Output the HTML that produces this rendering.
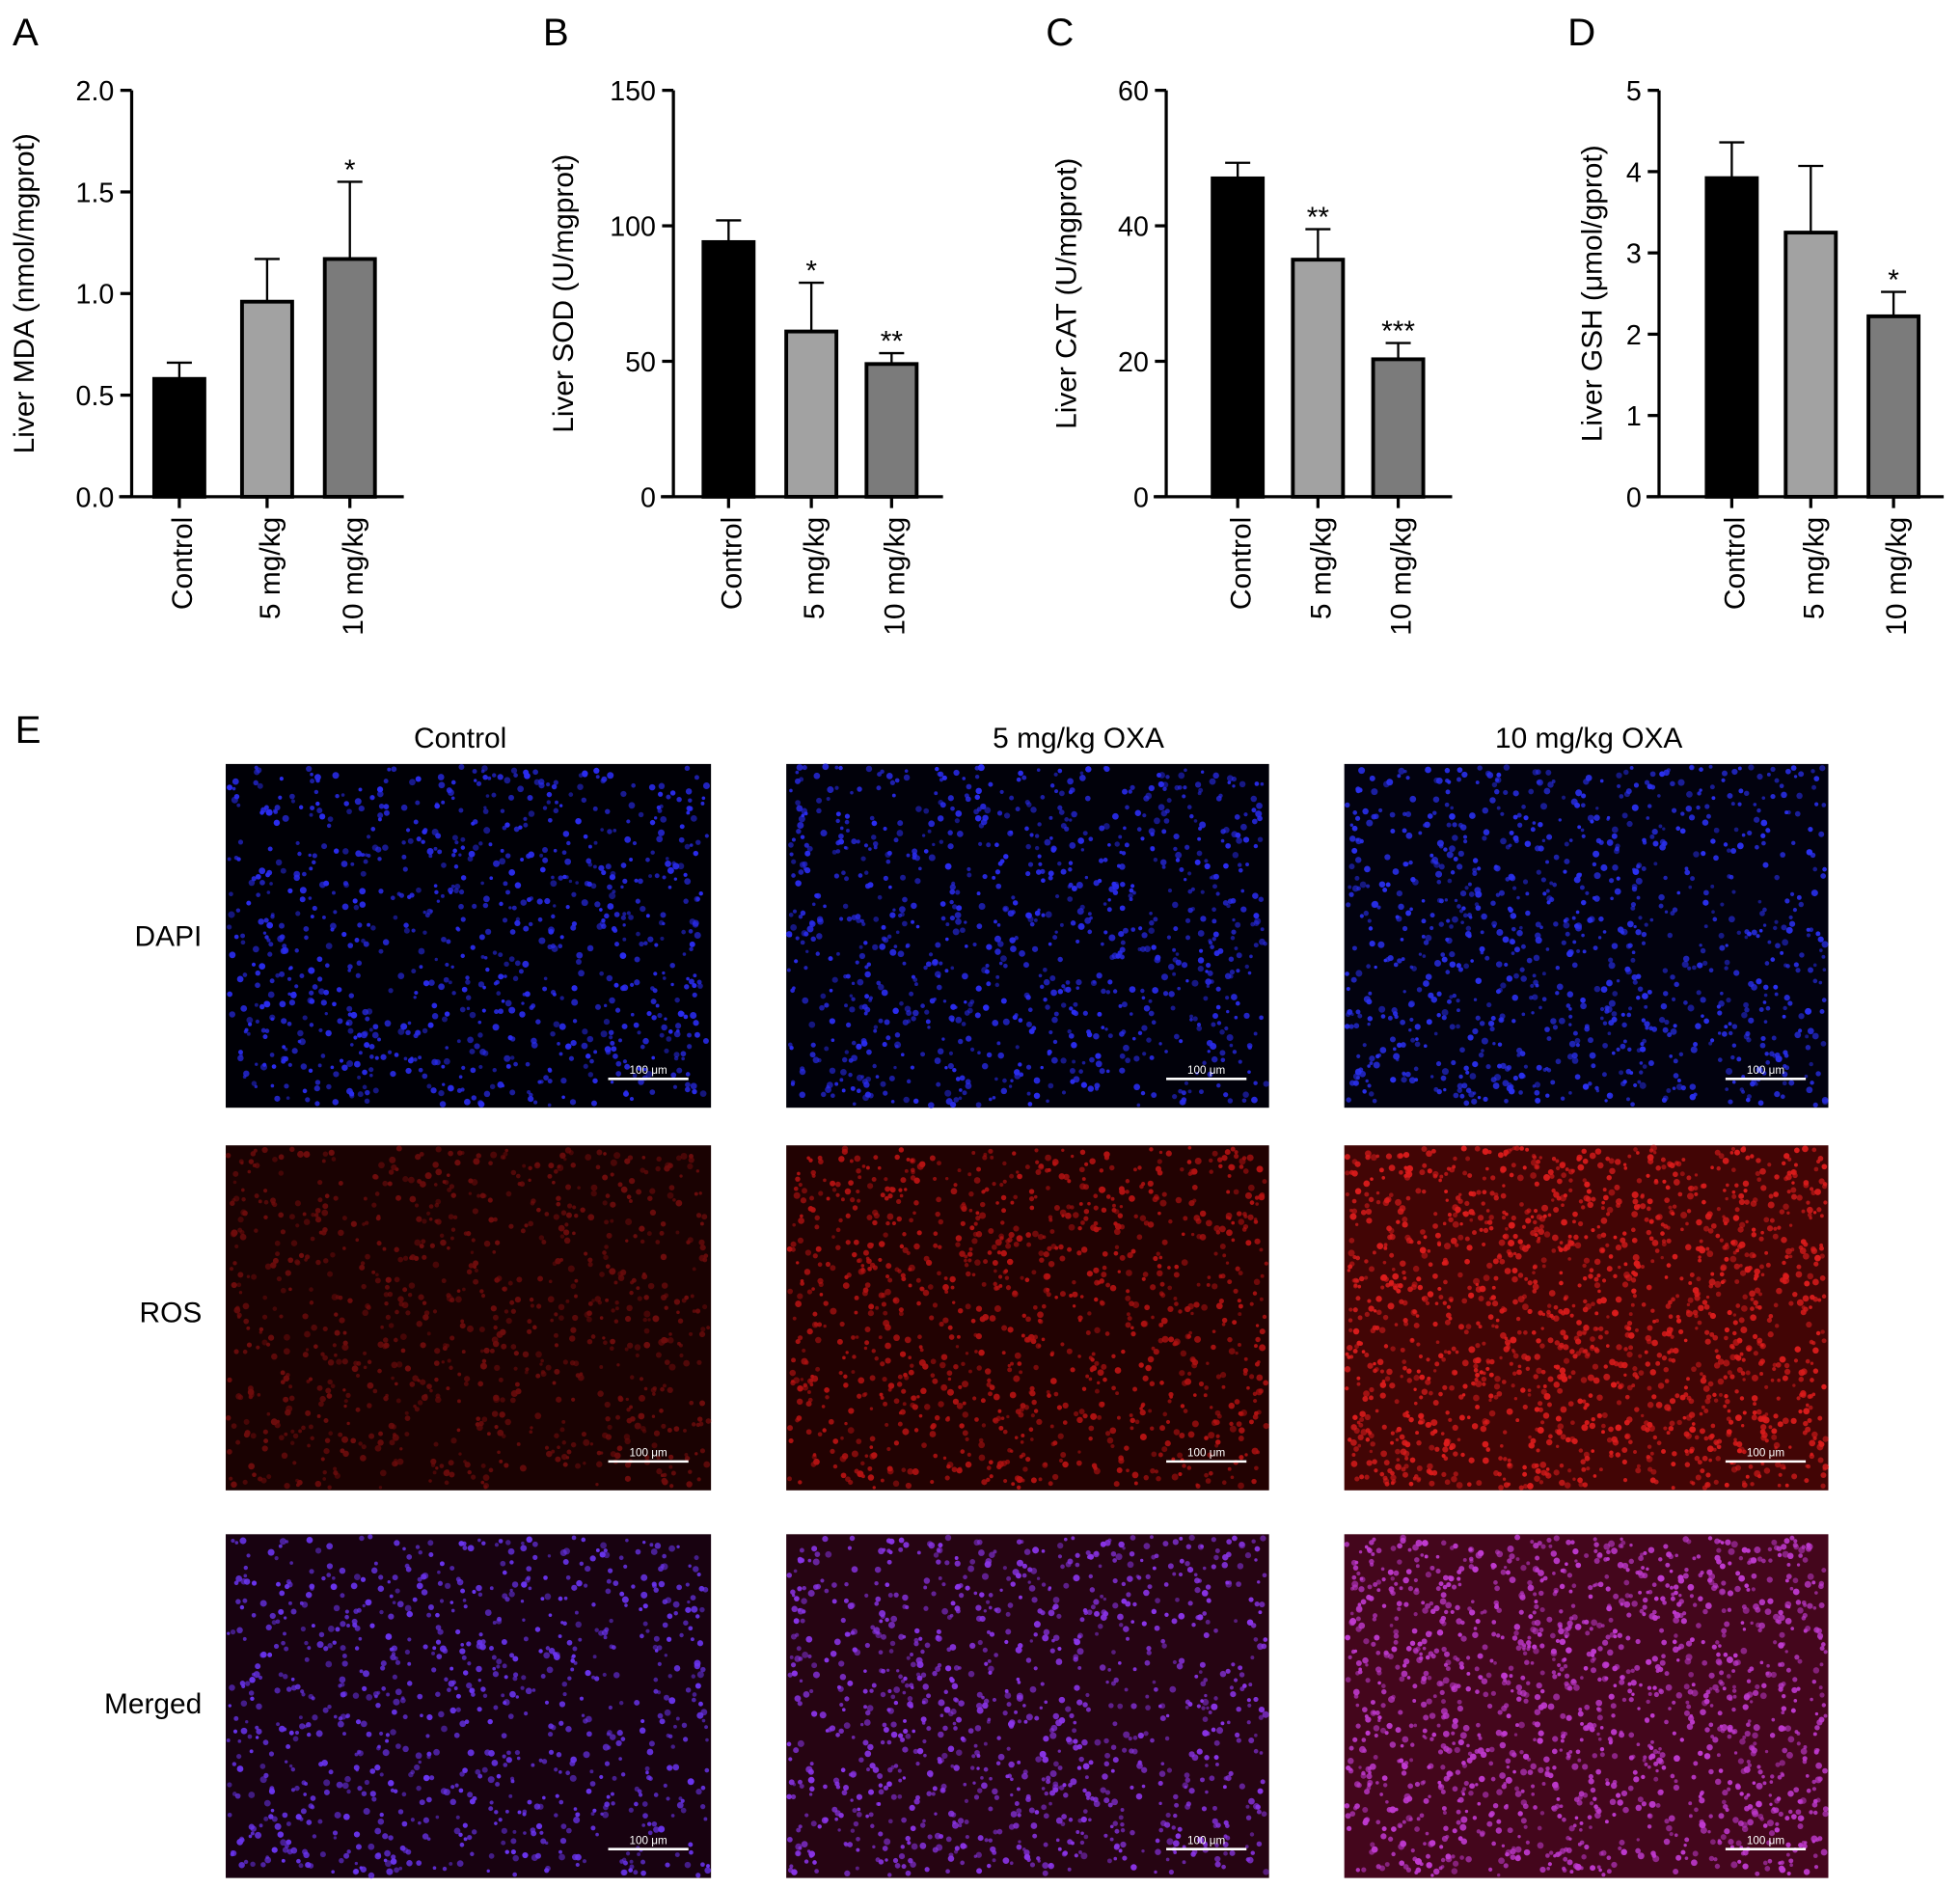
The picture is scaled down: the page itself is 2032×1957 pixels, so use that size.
<!DOCTYPE html>
<html><head><meta charset="utf-8">
<style>
html,body{margin:0;padding:0;background:#fff;}
svg{display:block;}
text{font-family:"Liberation Sans",Arial,sans-serif;}
</style></head>
<body>
<svg id="fig" width="2032" height="1957" viewBox="0 0 1563 1505" preserveAspectRatio="none" xmlns="http://www.w3.org/2000/svg">
  <g id="charts"></g>
  <g id="micro"></g>
</svg>
<script>
// ---- Chart data ----
const categories = ["Control", "5 mg/kg", "10 mg/kg"];
const mdaValues = [0.58, 0.96, 1.17];
const mdaErrors = [0.08, 0.21, 0.38];
const mdaStars = ["", "", "*"];
const mdaTicks = ["0.0", "0.5", "1.0", "1.5", "2.0"];
const sodValues = [94, 61, 49];
const sodErrors = [8, 18, 4];
const sodStars = ["", "*", "**"];
const sodTicks = ["0", "50", "100", "150"];
const catValues = [47, 35, 20.3];
const catErrors = [2.3, 4.5, 2.4];
const catStars = ["", "**", "***"];
const catTicks = ["0", "20", "40", "60"];
const gshValues = [3.92, 3.25, 2.22];
const gshErrors = [0.44, 0.82, 0.3];
const gshStars = ["", "", "*"];
const gshTicks = ["0", "1", "2", "3", "4", "5"];

const NS = "http://www.w3.org/2000/svg";
function mk(tag, attrs, parent){
  const e = document.createElementNS(NS, tag);
  for (const k in attrs) e.setAttribute(k, attrs[k]);
  parent.appendChild(e);
  return e;
}
const fills = ["#000000", "#a2a2a2", "#7b7b7b"];

const panels = [
  {letter:"A", lx:10, axisX:105, xEnd:322, centers:[143,213,279], max:2.0, ticks:mdaTicks, vals:mdaValues, errs:mdaErrors, stars:mdaStars, title:"Liver MDA (nmol/mgprot)", tx:21, name:"mda"},
  {letter:"B", lx:433, axisX:537, xEnd:752, centers:[581,647,711], max:150, ticks:sodTicks, vals:sodValues, errs:sodErrors, stars:sodStars, title:"Liver SOD (U/mgprot)", tx:451, name:"sod"},
  {letter:"C", lx:834, axisX:930, xEnd:1158, centers:[987,1051,1115], max:60, ticks:catTicks, vals:catValues, errs:catErrors, stars:catStars, title:"Liver CAT (U/mgprot)", tx:852, name:"cat"},
  {letter:"D", lx:1250, axisX:1323, xEnd:1550, centers:[1381,1444,1510], max:5, ticks:gshTicks, vals:gshValues, errs:gshErrors, stars:gshStars, title:"Liver GSH (\u03bcmol/gprot)", tx:1271, name:"gsh"}
];
const yTop = 72, yBot = 396, barW = 40;
const charts = document.getElementById("charts");
panels.forEach(p => {
  const g = mk("g", {}, charts);
  
  
  const yScale = v => yBot - (v / p.max) * (yBot - yTop);
  const L = mk("text", {x:p.lx, y:36, "font-size":31}, g); L.textContent = p.letter;
  
  
  const ya = mk("line", {x1:p.axisX, y1:yTop, x2:p.axisX, y2:yBot+1, stroke:"#000", "stroke-width":2.5}, g);
  
  
  const xa = mk("line", {x1:p.axisX-10, y1:yBot, x2:p.xEnd, y2:yBot, stroke:"#000", "stroke-width":2.5}, g);
  
  
  p.ticks.forEach(t => {
    const y = yScale(parseFloat(t));
    mk("line", {x1:p.axisX-9, y1:y, x2:p.axisX, y2:y, stroke:"#000", "stroke-width":2.5}, g);
    const tl = mk("text", {x:p.axisX-14, y:y+8, "font-size":22, "text-anchor":"end"}, g);
    tl.textContent = t;
    
    
  });
  const tt = mk("text", {x:p.tx, y:(yTop+yBot)/2, "font-size":23, "text-anchor":"middle", transform:`rotate(-90 ${p.tx} ${(yTop+yBot)/2})`, "dominant-baseline":"middle"}, g);
  tt.textContent = p.title;
  
  
  p.vals.forEach((v, i) => {
    const cx = p.centers[i];
    const top = yScale(v);
    const errTop = yScale(v + p.errs[i]);
    const el = mk("line", {x1:cx, y1:errTop, x2:cx, y2:top, stroke:"#000", "stroke-width":1.8}, g);
    
    
    mk("line", {x1:cx-10, y1:errTop, x2:cx+10, y2:errTop, stroke:"#000", "stroke-width":1.8}, g);
    const b = mk("rect", {x:cx-barW/2, y:top, width:barW, height:yBot-top, fill:fills[i], stroke:"#000", "stroke-width":3}, g);
    
    
    mk("line", {x1:cx, y1:yBot, x2:cx, y2:yBot+9, stroke:"#000", "stroke-width":2.5}, g);
    if (p.stars[i]) {
      const s = mk("text", {x:cx, y:errTop-2, "font-size":23, "text-anchor":"middle"}, g);
      s.textContent = p.stars[i];
      
      
    }
    const xl = mk("text", {x:0, y:0, "font-size":23, "text-anchor":"end", "dominant-baseline":"middle", transform:`translate(${cx+4} 412) rotate(-90)`}, g);
    xl.textContent = categories[i];
    
    
  });
});

// ---- Microscopy panel ----
const micro = document.getElementById("micro");
function txt(s, x, y, size, anchor, name){
  const t = mk("text", {x:x, y:y, "font-size":size, "text-anchor":anchor, "xml:space":"preserve"}, micro);
  t.textContent = s;
  
  
}
txt("E", 12, 592, 31, "start", "panel-label-e");
txt("Control", 367, 596, 23, "middle", "column-header-control");
txt("5 mg/kg  OXA", 860, 596, 23, "middle", "column-header-5mg");
txt("10 mg/kg  OXA", 1267, 596, 23, "middle", "column-header-10mg");
txt("DAPI", 161, 754, 23, "end", "row-label-dapi");
txt("ROS", 161, 1054, 23, "end", "row-label-ros");
txt("Merged", 161, 1366, 23, "end", "row-label-merged");

const cols = [[180,567],[627,1012],[1072,1458]];
const rows = [[609,883],[913,1188],[1223,1497]];
const styles = [
  [{bg:"#000006",dot:"#2a2cf0",n:900},{bg:"#01010a",dot:"#2a2cf0",n:950},{bg:"#02020f",dot:"#2a30f0",n:1000}],
  [{bg:"#1a0202",dot:"#6e0c0c",n:900},{bg:"#220202",dot:"#b41212",n:1100},{bg:"#420505",dot:"#dc1c1c",n:1600}],
  [{bg:"#180210",dot:"#6a34f0",n:900},{bg:"#260412",dot:"#8a34e8",n:1050},{bg:"#44061c",dot:"#c03ad0",n:1500}]
];
let seed = 12345;
function rnd(){ seed = (seed * 1103515245 + 12345) % 2147483648; return seed / 2147483648; }
rows.forEach((r, ri) => cols.forEach((c, ci) => {
  const st = styles[ri][ci];
  const g = mk("g", {}, micro);
  
  
  mk("rect", {x:c[0], y:r[0], width:c[1]-c[0], height:r[1]-r[0], fill:st.bg}, g);
  for (let k = 0; k < st.n; k++) {
    const x = c[0] + 2 + rnd() * (c[1]-c[0]-4);
    const y = r[0] + 2 + rnd() * (r[1]-r[0]-4);
    mk("circle", {cx:x.toFixed(1), cy:y.toFixed(1), r:(1.3 + rnd()*1.4).toFixed(1), fill:st.dot, opacity:(0.5 + rnd()*0.5).toFixed(2)}, g);
  }
  const bx2 = c[1] - 18, bx1 = bx2 - 64, by = r[1] - 23;
  const sb = mk("line", {x1:bx1, y1:by, x2:bx2, y2:by, stroke:"#fff", "stroke-width":2}, g);
  
  
  const st2 = mk("text", {x:(bx1+bx2)/2, y:by-4, "font-size":9, fill:"#fff", "text-anchor":"middle", "font-family":"Liberation Serif, serif"}, g);
  st2.textContent = "100 \u03bcm";
  
  
}));
</script>
</body></html>
